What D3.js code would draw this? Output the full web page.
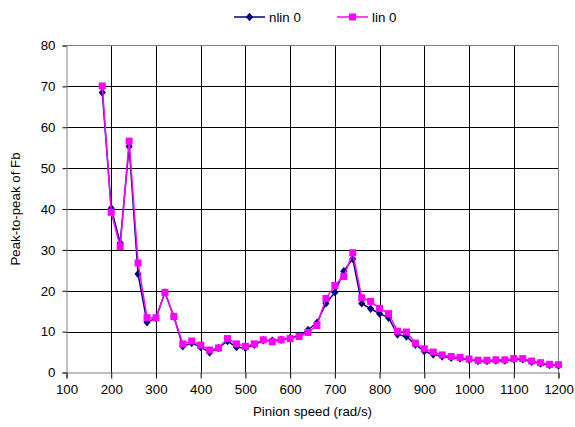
<!DOCTYPE html>
<html>
<head>
<meta charset="utf-8">
<script src="https://cdn.jsdelivr.net/npm/d3@7"></script>
<style>
  html, body { margin: 0; padding: 0; background: #fff; }
  svg { display: block; font-family: "Liberation Sans", Arial, sans-serif; }
</style>
</head>
<body>
<svg id="chart" width="575" height="427"></svg>
<script>
// Pinion speed (rad/s)
const speeds = [180,200,220,240,260,280,300,320,340,360,380,400,420,440,460,480,500,520,540,560,
  580,600,620,640,660,680,700,720,740,760,780,800,820,840,860,880,900,920,940,960,980,1000,
  1020,1040,1060,1080,1100,1120,1140,1160,1180,1200];

// Peak-to-peak of Fb, nonlinear model
const nlin0 = [68.5,40.2,31.7,55.3,24.1,12.3,13.3,19.6,13.7,6.4,7.2,6.2,4.9,6.0,7.7,6.2,6.0,6.8,7.9,7.8,
  8.0,8.5,9.0,10.4,12.2,16.9,19.6,24.8,27.8,16.9,15.6,14.4,13.4,9.3,8.8,6.8,5.2,4.4,3.9,3.6,3.4,3.1,
  2.8,2.8,2.9,2.9,3.2,3.2,2.6,2.2,1.8,1.7];

// Peak-to-peak of Fb, linear model
const lin0 = [70.1,39.2,30.8,56.6,26.8,13.4,13.4,19.6,13.7,7.0,7.7,6.7,5.5,6.0,8.3,7.0,6.4,7.0,8.0,7.5,
  8.0,8.3,8.8,9.8,11.5,18.1,21.3,23.5,29.3,18.3,17.4,15.7,14.4,10.1,9.9,7.2,5.8,5.0,4.3,3.9,3.7,3.3,
  3.0,3.0,3.1,3.1,3.4,3.4,2.8,2.4,2.0,1.9];

const xTicks = [100,200,300,400,500,600,700,800,900,1000,1100,1200];
const yTicks = [0,10,20,30,40,50,60,70,80];

const FONT = 13.3;
const svg = d3.select("#chart");
const plotLeft = 66.5, plotRight = 558.5, plotTop = 45.5, plotBottom = 372.5;

const x = d3.scaleLinear().domain([100, 1200]).range([plotLeft, plotRight]);
const y = d3.scaleLinear().domain([0, 80]).range([plotBottom, plotTop]);

// gridlines
const grid = svg.append("g");
grid.selectAll(".vg").data(xTicks.slice(1, -1)).enter().append("line")
  .attr("x1", d => Math.round(x(d)) + 0.5).attr("x2", d => Math.round(x(d)) + 0.5)
  .attr("y1", plotTop).attr("y2", plotBottom)
  .attr("stroke", "#000").attr("stroke-width", 1);
grid.selectAll(".hg").data(yTicks.slice(1, -1)).enter().append("line")
  .attr("x1", plotLeft).attr("x2", plotRight)
  .attr("y1", d => Math.round(y(d)) + 0.5).attr("y2", d => Math.round(y(d)) + 0.5)
  .attr("stroke", "#000").attr("stroke-width", 1);

// plot frame (top and right)
svg.append("line").attr("x1", plotLeft).attr("x2", plotRight).attr("y1", plotTop).attr("y2", plotTop)
  .attr("stroke", "#808080");
svg.append("line").attr("x1", plotRight).attr("x2", plotRight).attr("y1", plotTop).attr("y2", plotBottom)
  .attr("stroke", "#808080");

// axes
const xAxis = d3.axisBottom(x).tickValues(xTicks).tickSize(6).tickPadding(6).tickFormat(d3.format("d"));
const yAxis = d3.axisLeft(y).tickValues(yTicks).tickSize(4).tickPadding(7).tickFormat(d3.format("d"));

const gx = svg.append("g").attr("transform", `translate(0,${plotBottom})`).call(xAxis);
const gy = svg.append("g").attr("transform", `translate(${plotLeft},0)`).call(yAxis);
[gx, gy].forEach(g => {
  g.select(".domain").attr("stroke", "#808080");
  g.selectAll(".tick line").attr("stroke", "#000");
  g.selectAll("text").attr("font-size", FONT).attr("fill", "#000")
    .attr("font-family", "Liberation Sans, Arial, sans-serif");
});

// axis titles
svg.append("text").attr("x", (plotLeft + plotRight) / 2).attr("y", 416)
  .attr("text-anchor", "middle").attr("font-size", FONT).text("Pinion speed (rad/s)");
svg.append("text").attr("transform", `translate(20,${(plotTop + plotBottom) / 2}) rotate(-90)`)
  .attr("text-anchor", "middle").attr("font-size", FONT).text("Peak-to-peak of Fb");

// series
const series = [
  { name: "nlin 0", values: nlin0, color: "#000080", shape: "diamond" },
  { name: "lin 0", values: lin0, color: "#FF00FF", shape: "square" }
];

const line = d3.line().x(d => x(d[0])).y(d => y(d[1]));

function drawMarker(g, shape, color, cx, cy) {
  if (shape === "square") {
    g.append("rect").attr("x", cx - 3.5).attr("y", cy - 3.5).attr("width", 7).attr("height", 7)
      .attr("fill", color);
  } else {
    g.append("path").attr("d", `M${cx},${cy - 4.2}L${cx + 3.6},${cy}L${cx},${cy + 4.2}L${cx - 3.6},${cy}Z`)
      .attr("fill", color);
  }
}

series.forEach(s => {
  const pts = speeds.map((v, i) => [v, s.values[i]]);
  const g = svg.append("g");
  g.append("path").datum(pts).attr("d", line)
    .attr("fill", "none").attr("stroke", s.color).attr("stroke-width", 1.5);
  pts.forEach(p => drawMarker(g, s.shape, s.color, x(p[0]), y(p[1])));
});

// legend
const legendItems = [
  { s: series[0], x0: 234 },
  { s: series[1], x0: 337 }
];
legendItems.forEach(({ s, x0 }) => {
  const g = svg.append("g");
  g.append("line").attr("x1", x0).attr("x2", x0 + 31).attr("y1", 17).attr("y2", 17)
    .attr("stroke", s.color).attr("stroke-width", 1.5);
  drawMarker(g, s.shape, s.color, x0 + 15.5, 17);
  g.append("text").attr("x", x0 + 35).attr("y", 21.5).attr("font-size", FONT).text(s.name);
});
</script>
</body>
</html>
